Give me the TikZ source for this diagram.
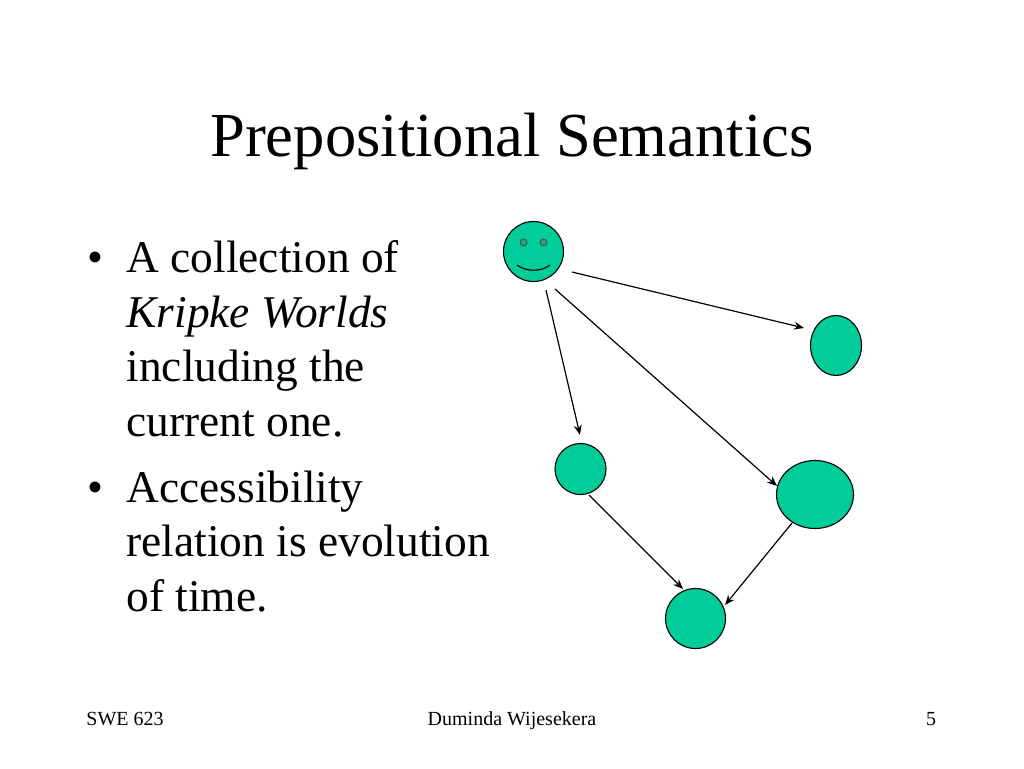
\documentclass[tikz,border=0pt]{standalone}
\usepackage{fontspec}
\setmainfont{Liberation Serif}
\usetikzlibrary{arrows.meta,shapes.geometric}
\definecolor{worldgreen}{HTML}{00CC99}
\definecolor{eyegreen}{HTML}{2E9E80}
\tikzset{every path/.style={black,line width=1.1pt},
  world/.style={draw,fill=worldgreen,ellipse,inner sep=0pt},
  eye/.style={draw=black!70,fill=eyegreen,circle,inner sep=0pt,minimum size=7pt,line width=0.8pt},
  link/.style={-{Stealth[length=10pt,width=8pt]},line width=1.2pt},
  body/.style={anchor=base west,font=\fontsize{45.4pt}{45.4pt}\selectfont,inner sep=0pt},
  foot/.style={anchor=base,font=\fontsize{20pt}{20pt}\selectfont,inner sep=0pt}}
\begin{document}
\begin{tikzpicture}[x=1pt,y=-1pt]
   \path[use as bounding box] (0,0) rectangle (1024,768);
   \node[anchor=base,font=\fontsize{62.6pt}{62.6pt}\selectfont,inner sep=0pt] (title) at (512,156) {Prepositional Semantics};
   \node[body] (b1) at (87,272) {•};
   \node[body] (l1) at (126,272) {A collection of};
   \node[body] (l2) at (126,327) {\itshape Kripke Worlds};
   \node[body] (l3) at (126,381) {including the};
   \node[body] (l4) at (126,436) {current one.};
   \node[body] (b2) at (87,502) {•};
   \node[body] (l5) at (126,502) {Accessibility};
   \node[body] (l6) at (126,556) {relation is evolution};
   \node[body] (l7) at (126,611) {of time.};
   \node[world,minimum width=60pt,minimum height=60pt] (face) at (533.5,251.5) {};
   \node[world,minimum width=51pt,minimum height=60pt] (w1) at (836,345.5) {};
   \node[world,minimum width=51pt,minimum height=51pt] (w2) at (580.5,469) {};
   \node[world,minimum width=77pt,minimum height=68pt] (w3) at (815,494.5) {};
   \node[world,minimum width=60pt,minimum height=60pt] (w4) at (695.5,618.5) {};
   \node[eye] (eyeL) at (523.5,242.5) {};
   \node[eye] (eyeR) at (543.5,242.5) {};
   \coordinate (smileL) at (517,265);
   \coordinate (smileR) at (550,265);
   \draw (smileL) .. controls (526,272) and (541,272) .. (smileR);
   \coordinate (s1) at (572,272);
   \coordinate (s2) at (555,289);
   \coordinate (s3) at (546,290);
   \coordinate (s4) at (589,495);
   \coordinate (s5) at (792,523);
   \coordinate (e1) at (804,328);
   \coordinate (e2) at (777,486);
   \coordinate (e3) at (580,435);
   \coordinate (e4) at (683,589);
   \coordinate (e5) at (725,605);
   \draw[link] (s1) -- (e1);
   \draw[link] (s2) -- (e2);
   \draw[link] (s3) -- (e3);
   \draw[link] (s4) -- (e4);
   \draw[link] (s5) -- (e5);
   \node[foot] (f1) at (125,725) {SWE 623};
   \node[foot] (f2) at (512,725) {Duminda Wijesekera};
   \node[foot] (f3) at (931,725) {5};
  \end{tikzpicture}
\end{document}
